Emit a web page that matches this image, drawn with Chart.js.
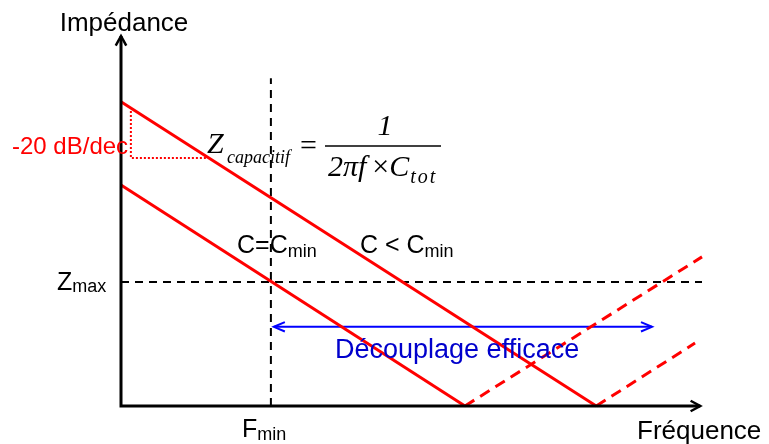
<!DOCTYPE html>
<html>
<head>
<meta charset="utf-8">
<script src="https://cdn.jsdelivr.net/npm/chart.js@4.4.1/dist/chart.umd.min.js"></script>
<style>
  html, body { margin: 0; padding: 0; background: #fff; }
</style>
</head>
<body>
<canvas id="impedanceChart" width="769" height="444"></canvas>
<script>
// unités arbitraires : fréquence 0..100, impédance 0..100
var axisPoints = [{x: 0, y: 100}, {x: 0, y: 0}, {x: 99.7, y: 0}];
var cMinLine = [{x: 0, y: 59.7}, {x: 59.2, y: 0}];
var cLowLine = [{x: 0, y: 82.2}, {x: 81.8, y: 0}];
var cMinRise = [{x: 59.2, y: 0}, {x: 100, y: 40.3}];
var cLowRise = [{x: 81.8, y: 0}, {x: 98.8, y: 17}];
var zMaxLevel = [{x: 0, y: 33.5}, {x: 100, y: 33.5}];
var fMinMark = [{x: 25.8, y: 0}, {x: 25.8, y: 88.6}];
var bandArrow = [{x: 26.3, y: 21.4}, {x: 91.4, y: 21.4}];
var slopeTriangle = [{x: 1.7, y: 79.7}, {x: 1.7, y: 67}, {x: 14.8, y: 67}];

var SANS = '"Liberation Sans", Arial, sans-serif';
var SERIF = '"Liberation Serif", "Times New Roman", serif';

function chevron(ctx, x, y, ang, len, spread, color, w) {
    ctx.save();
    ctx.strokeStyle = color;
    ctx.lineWidth = w;
    ctx.setLineDash([]);
    ctx.beginPath();
    ctx.moveTo(x - len * Math.cos(ang - spread), y - len * Math.sin(ang - spread));
    ctx.lineTo(x, y);
    ctx.lineTo(x - len * Math.cos(ang + spread), y - len * Math.sin(ang + spread));
    ctx.stroke();
    ctx.restore();
}

function txt(ctx, s, x, y, font, color) {
    ctx.font = font;
    ctx.fillStyle = color;
    ctx.fillText(s, x, y);
    return x + ctx.measureText(s).width;
}

function withSub(ctx, main, sub, x, y, size, subSize, drop, color, family, style) {
    style = style || '';
    var nx = txt(ctx, main, x, y, style + ' ' + size + 'px ' + family, color);
    return txt(ctx, sub, nx, y + drop, style + ' ' + subSize + 'px ' + family, color);
}

var notesPlugin = {
    id: 'notes',
    afterDatasetsDraw: function (chart) {
        var ctx = chart.ctx;
        var xs = chart.scales.x, ys = chart.scales.y;
        var px = function (p) { return [xs.getPixelForValue(p.x), ys.getPixelForValue(p.y)]; };

        // flèches des axes
        var top = px(axisPoints[0]);
        chevron(ctx, top[0], top[1], -Math.PI / 2, 11, 0.5, '#000', 2.5);
        var right = px(axisPoints[2]);
        chevron(ctx, right[0], right[1], 0, 11, 0.5, '#000', 2.5);

        // flèche bleue double
        var a = px(bandArrow[0]), b = px(bandArrow[1]);
        chevron(ctx, a[0], a[1], Math.PI, 12, 0.4, '#0000ff', 2);
        chevron(ctx, b[0], b[1], 0, 12, 0.4, '#0000ff', 2);

        ctx.save();
        ctx.textBaseline = 'alphabetic';

        ctx.textAlign = 'center';
        txt(ctx, 'Impédance', 124, 31, '26px ' + SANS, '#000');
        ctx.textAlign = 'left';
        txt(ctx, 'Fréquence', 637, 439, '26px ' + SANS, '#000');
        txt(ctx, '-20 dB/dec', 12, 154, '24px ' + SANS, '#ff0000');
        txt(ctx, 'Découplage efficace', 335, 358, '27px ' + SANS, '#0000cc');

        withSub(ctx, 'C=C', 'min', 237, 253, 25, 18, 4, '#000', SANS);
        withSub(ctx, 'C < C', 'min', 360, 253, 25, 18, 4, '#000', SANS);
        withSub(ctx, 'Z', 'max', 57, 290, 25, 18, 2, '#000', SANS);
        withSub(ctx, 'F', 'min', 242, 437, 25, 18, 3, '#000', SANS);

        // formule
        txt(ctx, 'Z', 207, 153, 'italic 30px ' + SERIF, '#000');
        txt(ctx, 'capacitif', 227, 163, 'italic 18px ' + SERIF, '#000');
        txt(ctx, '=', 300, 155, '30px ' + SERIF, '#000');
        ctx.strokeStyle = '#000';
        ctx.lineWidth = 1.5;
        ctx.setLineDash([]);
        ctx.beginPath();
        ctx.moveTo(325, 146);
        ctx.lineTo(441, 146);
        ctx.stroke();
        ctx.textAlign = 'center';
        txt(ctx, '1', 385, 135, 'italic 30px ' + SERIF, '#000');
        ctx.textAlign = 'left';
        var nx = txt(ctx, '2πf', 328, 176, 'italic 30px ' + SERIF, '#000');
        nx = txt(ctx, '×', nx + 6, 176, '30px ' + SERIF, '#000');
        nx = txt(ctx, 'C', nx, 176, 'italic 30px ' + SERIF, '#000');
        ctx.letterSpacing = '2px';
        txt(ctx, 'tot', nx + 1, 183, 'italic 20px ' + SERIF, '#000');
        ctx.letterSpacing = '0px';
        ctx.restore();
    }
};

function seg(data, color, width, dash, order) {
    return {
        data: data,
        showLine: true,
        borderColor: color,
        borderWidth: width,
        borderDash: dash,
        pointRadius: 0,
        fill: false,
        tension: 0,
        clip: false,
        order: order
    };
}

new Chart(document.getElementById('impedanceChart'), {
    type: 'scatter',
    data: {
        datasets: [
            seg(axisPoints, '#000', 3, [], 1),
            seg(cMinLine, '#ff0000', 3, [], 2),
            seg(cLowLine, '#ff0000', 3, [], 2),
            seg(cMinRise, '#ff0000', 3, [11, 7], 3),
            seg(cLowRise, '#ff0000', 3, [11, 7], 3),
            seg(bandArrow, '#0000ff', 2, [], 4),
            seg(slopeTriangle, '#ff0000', 2, [2, 2], 4),
            seg(zMaxLevel, '#000', 2, [8, 6], 5),
            seg(fMinMark, '#000', 2, [8, 6], 5)
        ]
    },
    options: {
        responsive: false,
        animation: false,
        layout: { padding: { left: 121, right: 67, top: 36, bottom: 38 } },
        plugins: { legend: { display: false }, tooltip: { enabled: false } },
        scales: {
            x: { type: 'linear', min: 0, max: 100, display: false },
            y: { type: 'linear', min: 0, max: 100, display: false }
        }
    },
    plugins: [notesPlugin]
});
</script>
</body>
</html>
